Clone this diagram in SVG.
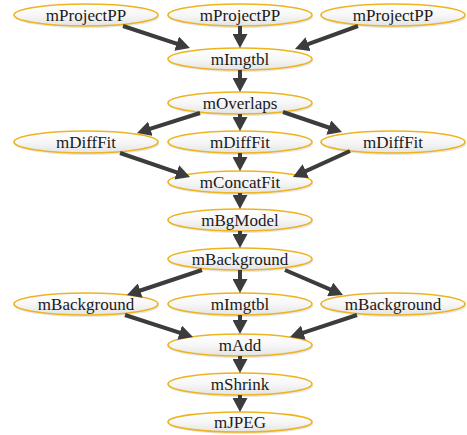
<svg xmlns="http://www.w3.org/2000/svg" width="467" height="435" viewBox="0 0 467 435">
<style>
.bg{fill:#ffffff}
.sh{fill:#d0d0d0;opacity:0.5}
.el{fill:url(#g);stroke:#eeb420;stroke-width:1.7}
.t{font-family:'Liberation Serif','Times New Roman',serif;font-size:17px;fill:#1a1a1a;text-anchor:middle}
.e{stroke:#3c3c3c;stroke-width:4;fill:none;marker-end:url(#ah)}
</style>
<defs>
<linearGradient id="g" x1="0" y1="0" x2="0" y2="1">
<stop offset="0" stop-color="#ffffff"/>
<stop offset="0.5" stop-color="#f7f7f7"/>
<stop offset="1" stop-color="#e4e4e4"/>
</linearGradient>
<marker id="ah" markerUnits="userSpaceOnUse" viewBox="0 0 14 15" markerWidth="14" markerHeight="15" refX="3" refY="7.5" orient="auto">
<path d="M0,0 L14,7.5 L0,15 z" fill="#3c3c3c"/>
</marker>
</defs>
<rect class="bg" x="0" y="0" width="467" height="435"/>
<g id="nodes">
<g id="pp1"><ellipse class="sh" cx="87" cy="17" rx="72" ry="11"/><ellipse class="el" cx="86" cy="15" rx="72" ry="11"/><text class="t" x="86" y="20.5">mProjectPP</text></g>
<g id="pp2"><ellipse class="sh" cx="241" cy="17" rx="72" ry="11"/><ellipse class="el" cx="240" cy="15" rx="72" ry="11"/><text class="t" x="240" y="20.5">mProjectPP</text></g>
<g id="pp3"><ellipse class="sh" cx="394" cy="17" rx="72" ry="11"/><ellipse class="el" cx="393" cy="15" rx="72" ry="11"/><text class="t" x="393" y="20.5">mProjectPP</text></g>
<g id="imgtbl1"><ellipse class="sh" cx="241" cy="61" rx="72" ry="11"/><ellipse class="el" cx="240" cy="59" rx="72" ry="11"/><text class="t" x="240" y="64.5">mImgtbl</text></g>
<g id="overlaps"><ellipse class="sh" cx="241" cy="105" rx="72" ry="11"/><ellipse class="el" cx="240" cy="103" rx="72" ry="11"/><text class="t" x="240" y="108.5">mOverlaps</text></g>
<g id="diff1"><ellipse class="sh" cx="87" cy="144" rx="72" ry="11"/><ellipse class="el" cx="86" cy="142" rx="72" ry="11"/><text class="t" x="86" y="147.5">mDiffFit</text></g>
<g id="diff2"><ellipse class="sh" cx="241" cy="144" rx="72" ry="11"/><ellipse class="el" cx="240" cy="142" rx="72" ry="11"/><text class="t" x="240" y="147.5">mDiffFit</text></g>
<g id="diff3"><ellipse class="sh" cx="394" cy="144" rx="72" ry="11"/><ellipse class="el" cx="393" cy="142" rx="72" ry="11"/><text class="t" x="393" y="147.5">mDiffFit</text></g>
<g id="concat"><ellipse class="sh" cx="241" cy="184" rx="72" ry="11"/><ellipse class="el" cx="240" cy="182" rx="72" ry="11"/><text class="t" x="240" y="187.5">mConcatFit</text></g>
<g id="bgmodel"><ellipse class="sh" cx="241" cy="222" rx="72" ry="11"/><ellipse class="el" cx="240" cy="220" rx="72" ry="11"/><text class="t" x="240" y="225.5">mBgModel</text></g>
<g id="bg0"><ellipse class="sh" cx="241" cy="261" rx="72" ry="11"/><ellipse class="el" cx="240" cy="259" rx="72" ry="11"/><text class="t" x="240" y="264.5">mBackground</text></g>
<g id="bg1"><ellipse class="sh" cx="87" cy="306" rx="72" ry="11"/><ellipse class="el" cx="86" cy="304" rx="72" ry="11"/><text class="t" x="86" y="309.5">mBackground</text></g>
<g id="imgtbl2"><ellipse class="sh" cx="241" cy="306" rx="72" ry="11"/><ellipse class="el" cx="240" cy="304" rx="72" ry="11"/><text class="t" x="240" y="309.5">mImgtbl</text></g>
<g id="bg2"><ellipse class="sh" cx="394" cy="306" rx="72" ry="11"/><ellipse class="el" cx="393" cy="304" rx="72" ry="11"/><text class="t" x="393" y="309.5">mBackground</text></g>
<g id="add"><ellipse class="sh" cx="241" cy="347" rx="72" ry="11"/><ellipse class="el" cx="240" cy="345" rx="72" ry="11"/><text class="t" x="240" y="350.5">mAdd</text></g>
<g id="shrink"><ellipse class="sh" cx="241" cy="386" rx="72" ry="11"/><ellipse class="el" cx="240" cy="384" rx="72" ry="11"/><text class="t" x="240" y="389.5">mShrink</text></g>
<g id="jpeg"><ellipse class="sh" cx="241" cy="424" rx="72" ry="10"/><ellipse class="el" cx="240" cy="422" rx="72" ry="10"/><text class="t" x="240" y="427.5">mJPEG</text></g>
</g>
<g id="edges">
<line class="e" x1="123" y1="26" x2="179.5" y2="44.6"/>
<line class="e" x1="240" y1="26" x2="240" y2="37"/>
<line class="e" x1="358" y1="26" x2="305.3" y2="45.2"/>
<line class="e" x1="240" y1="70" x2="240" y2="81"/>
<line class="e" x1="200" y1="113" x2="147.5" y2="129.7"/>
<line class="e" x1="240" y1="114" x2="240" y2="120"/>
<line class="e" x1="283" y1="112" x2="331.6" y2="128.5"/>
<line class="e" x1="120" y1="153" x2="179.6" y2="173.4"/>
<line class="e" x1="240" y1="153" x2="240" y2="160"/>
<line class="e" x1="350" y1="151" x2="303" y2="172.4"/>
<line class="e" x1="240" y1="193" x2="240" y2="198"/>
<line class="e" x1="240" y1="231" x2="240" y2="237"/>
<line class="e" x1="202" y1="270" x2="137.4" y2="291.5"/>
<line class="e" x1="240" y1="270" x2="240" y2="282"/>
<line class="e" x1="285" y1="270" x2="332.9" y2="290.6"/>
<line class="e" x1="125" y1="315" x2="182.5" y2="333.6"/>
<line class="e" x1="240" y1="315" x2="240" y2="323"/>
<line class="e" x1="357" y1="315" x2="300.5" y2="333.6"/>
<line class="e" x1="240" y1="356" x2="240" y2="362"/>
<line class="e" x1="240" y1="395" x2="240" y2="401"/>
</g>
</svg>
